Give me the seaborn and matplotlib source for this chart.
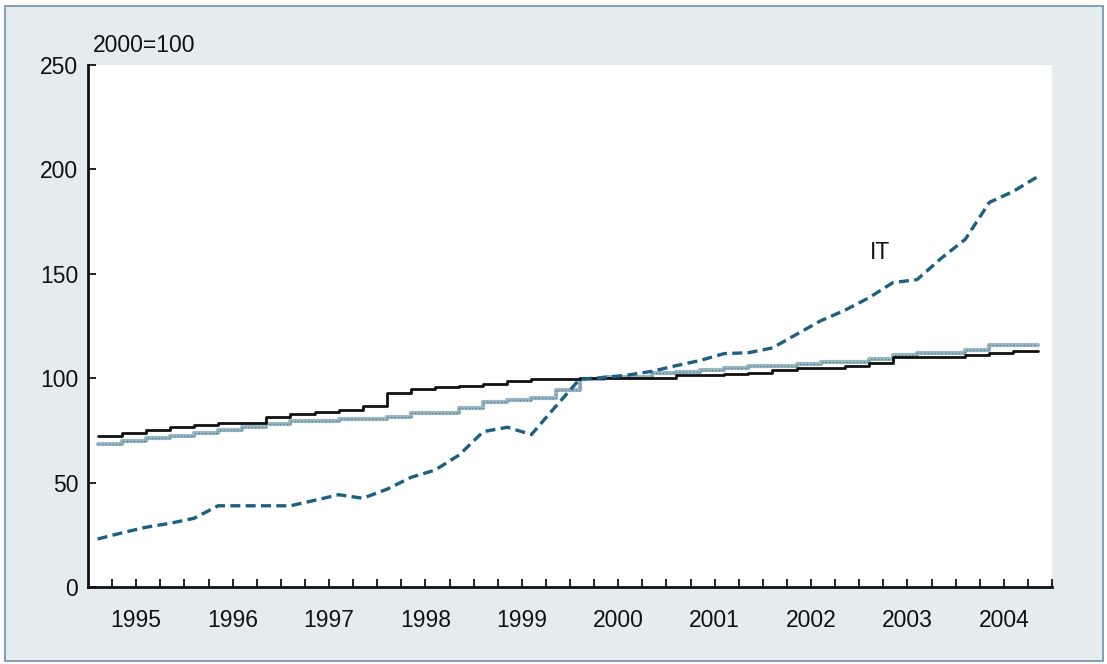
import numpy as np
import pandas as pd
import matplotlib
matplotlib.use("Agg")
import matplotlib.pyplot as plt
import seaborn as sns
from matplotlib.patches import Rectangle
from matplotlib.ticker import FixedLocator

# ---------------- data (quarterly readings, 1995Q1 .. 2004Q4) ----------------
quarter_pos = [1995.1 + 0.25 * q for q in range(40)]

total = [72.3, 73.8, 75.2, 76.5, 77.4, 78.4, 78.6, 81.6, 83.0, 84.0,
         85.0, 86.5, 93.0, 94.8, 95.9, 96.2, 97.0, 98.5, 99.6, 99.8,
         100.0, 100.0, 100.0, 100.2, 101.5, 101.5, 101.8, 102.6, 103.9, 104.7,
         104.7, 105.8, 107.1, 110.3, 110.3, 110.3, 111.1, 111.9, 113.0, 113.0]

other = [68.3, 69.7, 71.2, 72.3, 73.8, 75.2, 76.8, 78.0, 79.4, 79.4,
         80.3, 80.3, 81.6, 83.5, 83.5, 85.6, 88.5, 89.4, 90.4, 94.3,
         99.6, 100.7, 100.7, 102.3, 102.8, 103.9, 104.7, 105.8, 105.8, 106.8,
         107.8, 107.8, 109.0, 111.1, 111.9, 111.9, 113.5, 115.9, 115.9, 115.9]

it = [23.0, 25.9, 28.6, 30.5, 32.9, 38.9, 38.9, 38.9, 38.9, 41.5,
      44.2, 42.5, 46.8, 52.5, 56.0, 63.2, 74.4, 76.5, 73.0, 86.4,
      99.5, 100.3, 101.5, 103.3, 106.0, 108.5, 111.8, 112.2, 114.5, 121.0,
      127.5, 132.5, 138.5, 145.8, 147.2, 157.4, 166.5, 184.2, 189.5, 196.5]

year_labels = ["1995", "1996", "1997", "1998", "1999",
               "2000", "2001", "2002", "2003", "2004"]
y_ticks = [0, 50, 100, 150, 200, 250]
unit_note = "2000=100"
series_label = "IT"

# ---------------- styling ----------------
sns.set_theme(style="white")
plt.rcParams["font.family"] = ["Liberation Sans", "DejaVu Sans"]

FS = 16.5
BG = "#e5ecf0"

fig = plt.figure(figsize=(11.07, 6.64), dpi=100)
fig.patch.set_facecolor("white")
fig.patches.append(Rectangle((4.5 / 1107, 3.5 / 664), 1 - 9 / 1107, 1 - 9 / 664,
                             transform=fig.transFigure, facecolor=BG,
                             edgecolor="#6f90a8", lw=1.2, zorder=-10))

ax = fig.add_axes([88 / 1107, 1 - 587 / 664, (1052 - 88) / 1107, (587 - 65) / 664])
ax.set_zorder(5)
ax.set_facecolor("white")

df = pd.DataFrame({"t": quarter_pos, "total": total, "other": other, "it": it})

sns.lineplot(data=df, x="t", y="total", ax=ax, color="#111111", lw=2.0,
             drawstyle="steps-post", zorder=4)
sns.lineplot(data=df, x="t", y="other", ax=ax, color="#9db7c2", lw=3.0,
             drawstyle="steps-post", zorder=3)
sns.lineplot(data=df, x="t", y="other", ax=ax, color="#4f8198", lw=1.0,
             drawstyle="steps-post", linestyle=(0, (1, 1.5)), zorder=3.5)
sns.lineplot(data=df, x="t", y="it", ax=ax, color="#1d5f82", lw=2.4,
             linestyle=(0, (3, 1.6)), zorder=5)

ax.set_xlim(1995, 2005)
ax.set_ylim(0, 250)
ax.set_xlabel("")
ax.set_ylabel("")

# x axis: labels at mid-year, quarterly inward ticks
ax.xaxis.set_major_locator(FixedLocator([1995.5 + i for i in range(10)]))
ax.set_xticklabels(year_labels)
ax.xaxis.set_minor_locator(FixedLocator([1995.25 + 0.25 * i for i in range(40)]))
ax.xaxis.remove_overlapping_locs = False
ax.tick_params(axis="x", which="major", length=0, pad=16, labelsize=FS,
               labelcolor="#111111")
ax.tick_params(axis="x", which="minor", direction="in", length=6, width=1.3,
               color="#111111", bottom=True)

ax.set_yticks(y_ticks)
ax.set_yticklabels([str(v) for v in y_ticks])
ax.tick_params(axis="y", which="major", direction="in", length=6, width=1.3,
               color="#111111", left=True, pad=7, labelsize=FS, labelcolor="#111111")

for s in ["top", "right"]:
    ax.spines[s].set_visible(False)
for s in ["left", "bottom"]:
    ax.spines[s].set_color("#111111")
    ax.spines[s].set_linewidth(2.0)

ax.grid(False)

fig.text(93 / 1107, 1 - 45 / 664, unit_note, fontsize=FS, color="#111111",
         ha="left", va="center")
ax.text(2003.22, 160, series_label, fontsize=FS, color="#111111",
        ha="center", va="center")

fig.savefig("out.png", dpi=100, facecolor=fig.get_facecolor())
